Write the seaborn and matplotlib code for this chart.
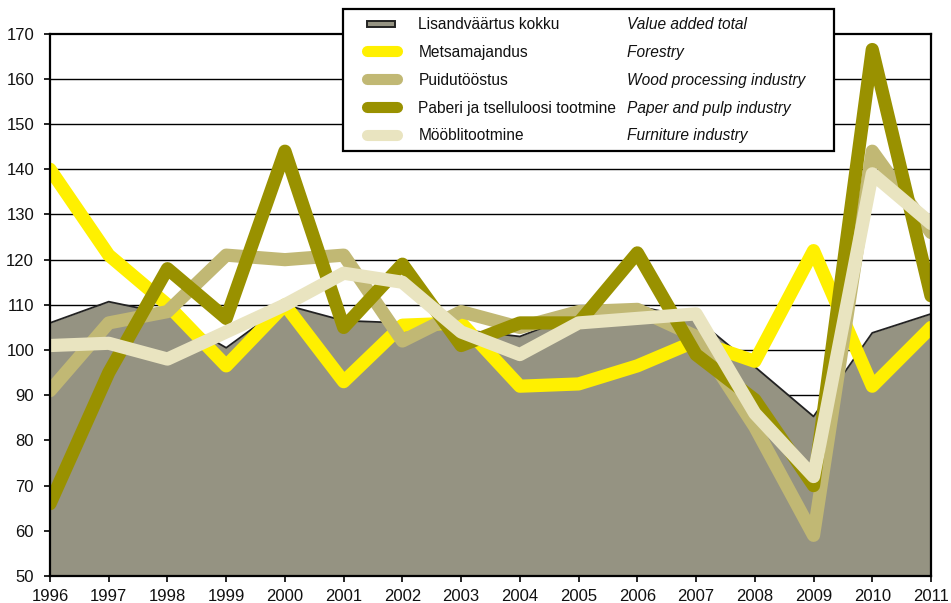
import matplotlib
matplotlib.use("Agg")
import matplotlib.pyplot as plt
from matplotlib.lines import Line2D
from matplotlib.patches import Rectangle
from matplotlib.legend_handler import HandlerLine2D, HandlerPatch
import numpy as np
import pandas as pd
import seaborn as sns

# Index values by year
years = list(range(1996, 2012))
value_added_total = [106, 110.7, 108, 100.5, 110, 106.5, 106, 104.5, 103, 108, 109.7, 107, 96.3, 85.3, 103.8, 108]
forestry = [140, 121, 110, 96.5, 110, 93, 105.5, 106, 92, 92.5, 96.5, 102, 97.5, 122, 92, 105]
wood_processing = [91, 106, 108.5, 121, 120, 121, 102, 108.5, 105, 108.5, 109, 103, 83, 59, 144, 126]
paper_pulp = [66, 95, 118, 107, 144, 105, 119, 101, 106, 106, 121.5, 99, 89, 70, 166.5, 112]
furniture = [101, 101.5, 98, 104, 110, 117, 115, 104, 99, 106, 107, 108, 86, 72, 139, 128]

labels_et = ["Lisandväärtus kokku", "Metsamajandus", "Puidutööstus",
             "Paberi ja tselluloosi tootmine", "Mööblitootmine"]
labels_en = ["Value added total", "Forestry", "Wood processing industry",
             "Paper and pulp industry", "Furniture industry"]
y_ticks = list(range(50, 171, 10))

area_color = "#959382"
line_colors = ["#fff000", "#c1b874", "#999100", "#e9e4c0"]
LW = 9.5

sns.set_style("white")
plt.rcParams["font.family"] = ["Liberation Sans", "DejaVu Sans"]

fig = plt.figure(figsize=(9.51, 6.03), dpi=100)
ax = fig.add_axes([50 / 951, 1 - 576 / 603, 881 / 951, (576 - 33.7) / 603])

# Total value added as a filled area with a thin dark outline
ax.fill_between(years, value_added_total, 50, color=area_color, lw=0, zorder=1)
sns.lineplot(x=years, y=value_added_total, ax=ax, color="#222222", lw=1.3, zorder=2)

series = [forestry, wood_processing, paper_pulp, furniture]
for vals, col in zip(series, line_colors):
    sns.lineplot(x=years, y=vals, ax=ax, color=col, lw=LW, zorder=3,
                 solid_capstyle="round", solid_joinstyle="round")

ax.set_xlim(1996, 2011)
ax.set_ylim(50, 170)
ax.set_xticks(years)
ax.set_xticklabels([str(y) for y in years])
ax.set_yticks(y_ticks)
ax.set_xlabel("")
ax.set_ylabel("")
for y in y_ticks[1:-1]:
    ax.axhline(y, color="black", lw=1.0, zorder=0.5)
for s in ax.spines.values():
    s.set_visible(True)
    s.set_color("black")
    s.set_linewidth(1.6)
    s.set_zorder(4)
ax.tick_params(axis="both", which="major", direction="out", length=4.5,
               width=1.2, color="black", labelsize=12, labelcolor="#111111")
ax.tick_params(axis="y", pad=7)
ax.tick_params(axis="x", pad=5)
ax.yaxis.set_ticks_position("left")
ax.xaxis.set_ticks_position("bottom")


class OffsetLineHandler(HandlerLine2D):
    def __init__(self, offset, **kw):
        super().__init__(**kw)
        self.offset = offset

    def get_xdata(self, legend, xdescent, ydescent, width, height, fontsize):
        x0 = -xdescent + self.offset
        x1 = -xdescent + width
        return np.array([x0, x1]), np.array([x0, x1])


def area_patch(legend, orig_handle, xdescent, ydescent, width, height, fontsize):
    off = 12
    return Rectangle((-xdescent + off, -ydescent + height * 0.2),
                     width - off - 2, height * 0.55)


area_handle = Rectangle((0, 0), 1, 1, facecolor=area_color, edgecolor="#222222", lw=1.4)
line_handles = [Line2D([], [], color=c, lw=8, solid_capstyle="round") for c in line_colors]
blank = [Line2D([], [], linestyle="none") for _ in labels_en]

handles = [area_handle] + line_handles + blank
labels = labels_et + [t + "     " for t in labels_en]
handler_map = {area_handle: HandlerPatch(patch_func=area_patch)}
for h in line_handles:
    handler_map[h] = OffsetLineHandler(12)

leg = fig.legend(handles, labels, ncol=2, loc="upper left",
                 bbox_to_anchor=(343 / 951, 1 - 9 / 603),
                 bbox_transform=fig.transFigure, borderaxespad=0,
                 handler_map=handler_map, fontsize=11.2,
                 handlelength=3.0, handletextpad=1.35, columnspacing=-3.7,
                 labelspacing=0.83, borderpad=0.5, fancybox=False,
                 frameon=True, edgecolor="black", framealpha=1)
leg.get_frame().set_linewidth(1.6)
leg.set_zorder(10)
for t in leg.get_texts()[5:]:
    t.set_style("italic")
for t in leg.get_texts():
    t.set_color("#111111")

fig.savefig("out.png", dpi=100)
